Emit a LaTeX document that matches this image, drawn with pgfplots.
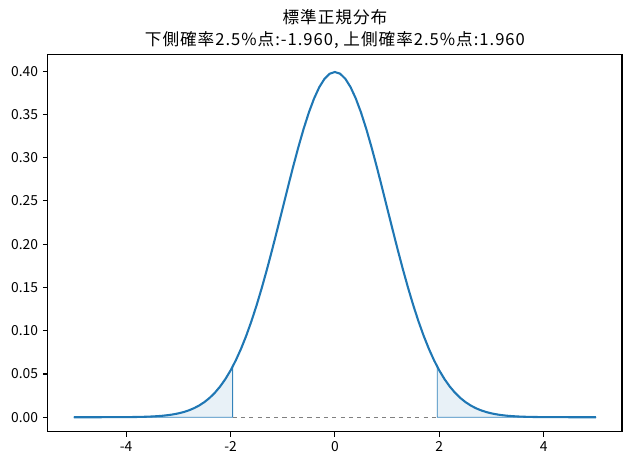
\documentclass[border=0pt]{standalone}
\usepackage{pgfplots}
\pgfplotsset{compat=1.18}
\usepackage{fontspec}
\setmainfont{Noto Sans CJK JP}
\definecolor{mplblue}{HTML}{1F77B4}

\begin{document}
\begin{tikzpicture}
\begin{axis}[
  scale only axis,
  width=5.74in, height=3.77in,
  xmin=-5.5, xmax=5.5,
  ymin=-0.017, ymax=0.4188,
  xtick={-4,-2,0,2,4},
  ytick={0,0.05,0.10,0.15,0.20,0.25,0.30,0.35,0.40},
  yticklabel style={/pgf/number format/.cd,fixed,fixed zerofill,precision=2},
  /pgf/number format/assume math mode=true,
  tick align=outside,
  major tick length=3.5pt,
  tick style={black, line width=0.8pt},
  axis line style={line width=0.8pt},
  xtick pos=bottom, ytick pos=left,
  ticklabel style={font=\fontsize{10}{12}\selectfont},
  title style={font=\fontsize{12}{15.5}\selectfont\addfontfeature{LetterSpace=6}, align=center, yshift=-5pt},
  title={標準正規分布\\下側確率2.5\%点:-1.960, 上側確率2.5\%点:1.960},
]
% dashed reference line at y = 0
\addplot [gray, dashed, line width=0.5pt] coordinates {(-1.96,0) (1.96,0)};
% shaded tails
\addplot [draw=mplblue, line width=0.6pt, fill=mplblue, fill opacity=0.1, draw opacity=0.9] coordinates {
  (-5.0,0.0000015) (-4.6,0.00001) (-4.4,0.00002) (-4.2,0.00006) (-4.0,0.00013)
  (-3.9,0.00020) (-3.8,0.00029) (-3.7,0.00042) (-3.6,0.00061) (-3.5,0.00087)
  (-3.4,0.00123) (-3.3,0.00172) (-3.2,0.00238) (-3.1,0.00327) (-3.0,0.00443)
  (-2.9,0.00595) (-2.8,0.00792) (-2.7,0.01042) (-2.6,0.01358) (-2.5,0.01753)
  (-2.4,0.02239) (-2.3,0.02833) (-2.2,0.03547) (-2.1,0.04398) (-2.0,0.05399)
  (-1.96,0.05844) (-1.96,0) (-5.0,0)
} -- cycle;
\addplot [draw=mplblue, line width=0.6pt, fill=mplblue, fill opacity=0.1, draw opacity=0.9] coordinates {
  (1.96,0) (1.96,0.05844) (2.0,0.05399) (2.1,0.04398) (2.2,0.03547) (2.3,0.02833)
  (2.4,0.02239) (2.5,0.01753) (2.6,0.01358) (2.7,0.01042) (2.8,0.00792)
  (2.9,0.00595) (3.0,0.00443) (3.1,0.00327) (3.2,0.00238) (3.3,0.00172)
  (3.4,0.00123) (3.5,0.00087) (3.6,0.00061) (3.7,0.00042) (3.8,0.00029)
  (3.9,0.00020) (4.0,0.00013) (4.2,0.00006) (4.4,0.00002) (4.6,0.00001)
  (5.0,0.0000015) (5.0,0)
} -- cycle;
% standard normal density
\addplot [mplblue, line width=1.5pt] coordinates {
  (-5.0,0.0000015) (-4.8,0.000004) (-4.6,0.00001) (-4.4,0.00002) (-4.2,0.00006) (-4.0,0.00013)
  (-3.9,0.00020) (-3.8,0.00029) (-3.7,0.00042) (-3.6,0.00061) (-3.5,0.00087)
  (-3.4,0.00123) (-3.3,0.00172) (-3.2,0.00238) (-3.1,0.00327) (-3.0,0.00443)
  (-2.9,0.00595) (-2.8,0.00792) (-2.7,0.01042) (-2.6,0.01358) (-2.5,0.01753)
  (-2.4,0.02239) (-2.3,0.02833) (-2.2,0.03547) (-2.1,0.04398) (-2.0,0.05399)
  (-1.9,0.06562) (-1.8,0.07895) (-1.7,0.09405) (-1.6,0.11092) (-1.5,0.12952)
  (-1.4,0.14973) (-1.3,0.17137) (-1.2,0.19419) (-1.1,0.21785) (-1.0,0.24197)
  (-0.9,0.26609) (-0.8,0.28969) (-0.7,0.31225) (-0.6,0.33322) (-0.5,0.35207)
  (-0.4,0.36827) (-0.3,0.38139) (-0.2,0.39104) (-0.1,0.39695) (0.0,0.39894)
  (0.1,0.39695) (0.2,0.39104) (0.3,0.38139) (0.4,0.36827) (0.5,0.35207)
  (0.6,0.33322) (0.7,0.31225) (0.8,0.28969) (0.9,0.26609) (1.0,0.24197)
  (1.1,0.21785) (1.2,0.19419) (1.3,0.17137) (1.4,0.14973) (1.5,0.12952)
  (1.6,0.11092) (1.7,0.09405) (1.8,0.07895) (1.9,0.06562) (2.0,0.05399)
  (2.1,0.04398) (2.2,0.03547) (2.3,0.02833) (2.4,0.02239) (2.5,0.01753)
  (2.6,0.01358) (2.7,0.01042) (2.8,0.00792) (2.9,0.00595) (3.0,0.00443)
  (3.1,0.00327) (3.2,0.00238) (3.3,0.00172) (3.4,0.00123) (3.5,0.00087)
  (3.6,0.00061) (3.7,0.00042) (3.8,0.00029) (3.9,0.00020) (4.0,0.00013)
  (4.2,0.00006) (4.4,0.00002) (4.6,0.00001) (4.8,0.000004) (5.0,0.0000015)
};
\end{axis}
% fix the page to the reference's proportions around the axis box
\path (current axis.south west) ++(-34.56pt,-27.36pt) coordinate (bbA);
\path (current axis.north east) ++(5.76pt,39.6pt) coordinate (bbB);
\path (bbA) rectangle (bbB);
\end{tikzpicture}
\end{document}
